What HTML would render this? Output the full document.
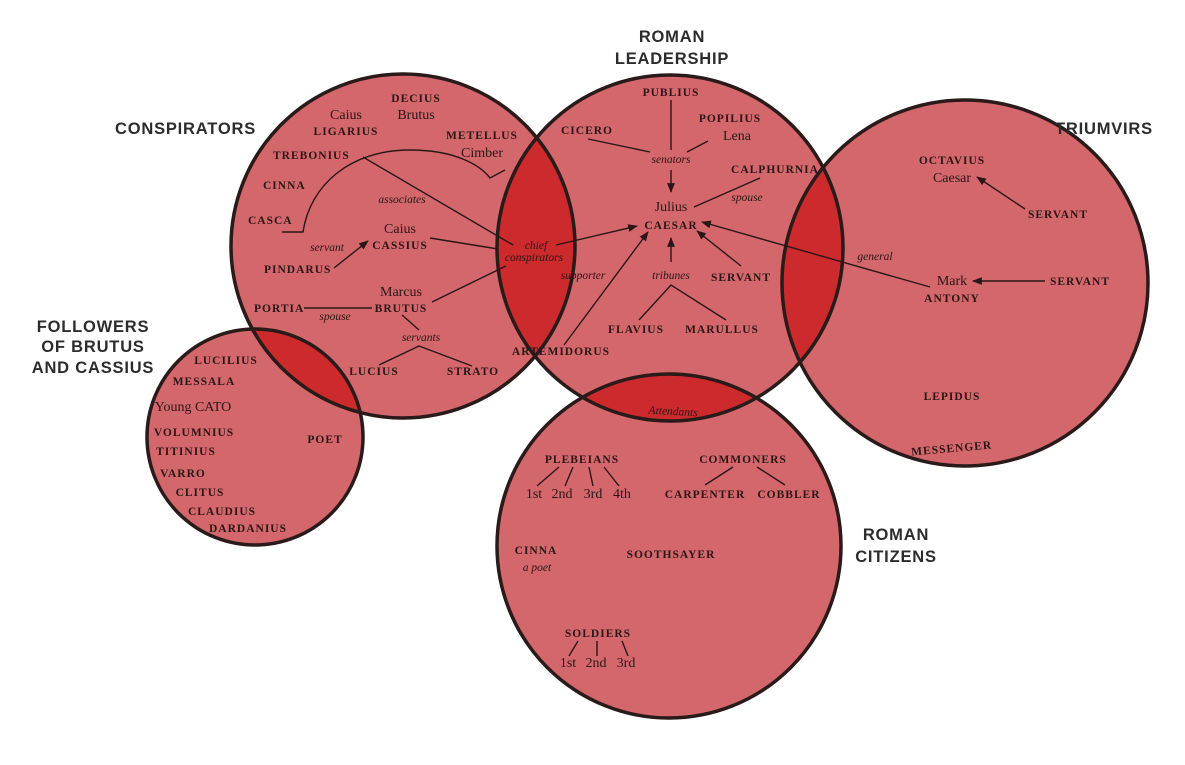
<!DOCTYPE html>
<html><head><meta charset="utf-8"><style>
body{margin:0;background:#fff;}
svg{display:block}
.n{font-family:"Liberation Serif",serif;font-weight:bold;font-size:11.5px;letter-spacing:1px;fill:#2a1616}
.r{font-family:"Liberation Serif",serif;font-size:14px;fill:#2a1616}
.i{font-family:"Liberation Serif",serif;font-style:italic;font-size:11.5px;fill:#2a1616}
.h{font-family:"Liberation Sans",sans-serif;font-weight:bold;font-size:16.5px;letter-spacing:.8px;fill:#2c2c2c}
.l{stroke:#2a1616;stroke-width:1.4;fill:none}
</style></head><body>
<svg width="1185" height="765" viewBox="0 0 1185 765" xmlns="http://www.w3.org/2000/svg">
<defs>
<marker id="a" viewBox="0 0 10 10" refX="9" refY="5" markerWidth="7" markerHeight="7" orient="auto"><path d="M0,1 L10,5 L0,9 z" fill="#2a1616"/></marker>
<clipPath id="cC"><circle cx="403" cy="246" r="172"/></clipPath>
<clipPath id="cL"><circle cx="670" cy="248" r="173"/></clipPath>
<clipPath id="cZ"><circle cx="669" cy="546" r="172"/></clipPath>
</defs>
<g fill="#d4676b">
<circle cx="403" cy="246" r="172"/>
<circle cx="670" cy="248" r="173"/>
<circle cx="965" cy="283" r="183"/>
<circle cx="255" cy="437" r="108"/>
<circle cx="669" cy="546" r="172"/>
</g>
<g fill="#cc2a2c">
<circle cx="670" cy="248" r="173" clip-path="url(#cC)"/>
<circle cx="965" cy="283" r="183" clip-path="url(#cL)"/>
<circle cx="255" cy="437" r="108" clip-path="url(#cC)"/>
<circle cx="669" cy="546" r="172" clip-path="url(#cL)"/>
</g>
<g fill="none" stroke="#2a1a1a" stroke-width="3.5">
<circle cx="403" cy="246" r="172"/>
<circle cx="670" cy="248" r="173"/>
<circle cx="965" cy="283" r="183"/>
<circle cx="255" cy="437" r="108"/>
<circle cx="669" cy="546" r="172"/>
</g>
<!-- headings -->
<text class="h" x="115" y="134">CONSPIRATORS</text>
<text class="h" x="672" y="42" text-anchor="middle">ROMAN</text>
<text class="h" x="672" y="64" text-anchor="middle">LEADERSHIP</text>
<text class="h" x="1055" y="134">TRIUMVIRS</text>
<text class="h" x="93" y="332" text-anchor="middle">FOLLOWERS</text>
<text class="h" x="93" y="352" text-anchor="middle">OF BRUTUS</text>
<text class="h" x="93" y="373" text-anchor="middle">AND CASSIUS</text>
<text class="h" x="896" y="540" text-anchor="middle">ROMAN</text>
<text class="h" x="896" y="562" text-anchor="middle">CITIZENS</text>
<!-- conspirators -->
<text class="r" x="346" y="119" text-anchor="middle">Caius</text>
<text class="n" x="346" y="135" text-anchor="middle">LIGARIUS</text>
<text class="n" x="416" y="102" text-anchor="middle">DECIUS</text>
<text class="r" x="416" y="119" text-anchor="middle">Brutus</text>
<text class="n" x="482" y="139" text-anchor="middle">METELLUS</text>
<text class="r" x="482" y="157" text-anchor="middle">Cimber</text>
<text class="n" x="273" y="159">TREBONIUS</text>
<text class="n" x="263" y="189">CINNA</text>
<text class="n" x="248" y="224">CASCA</text>
<text class="i" x="402" y="203" text-anchor="middle">associates</text>
<text class="r" x="400" y="233" text-anchor="middle">Caius</text>
<text class="n" x="400" y="249" text-anchor="middle">CASSIUS</text>
<text class="i" x="327" y="251" text-anchor="middle">servant</text>
<text class="n" x="264" y="273">PINDARUS</text>
<text class="r" x="401" y="296" text-anchor="middle">Marcus</text>
<text class="n" x="401" y="312" text-anchor="middle">BRUTUS</text>
<text class="n" x="254" y="312">PORTIA</text>
<text class="i" x="335" y="320" text-anchor="middle">spouse</text>
<text class="i" x="421" y="341" text-anchor="middle">servants</text>
<text class="n" x="374" y="375" text-anchor="middle">LUCIUS</text>
<text class="n" x="473" y="375" text-anchor="middle">STRATO</text>
<text class="i" x="536" y="249" text-anchor="middle">chief</text>
<text class="i" x="534" y="261" text-anchor="middle">conspirators</text>
<text class="i" x="583" y="279" text-anchor="middle">supporter</text>
<text class="n" x="561" y="355" text-anchor="middle">ARTEMIDORUS</text>
<path class="l" d="M282,232 L303,232 C310,185 350,150 410,150 C455,150 480,165 490,178 L505,170"/>
<path class="l" d="M363,157 L513,245"/>
<path class="l" d="M430,238 L498,249"/>
<path class="l" d="M432,302 L506,266"/>
<path class="l" d="M334,268 L368,241" marker-end="url(#a)"/>
<path class="l" d="M304,308 L372,308"/>
<path class="l" d="M402,315 L419,330"/>
<path class="l" d="M379,365 L419,346 L472,366"/>
<!-- leadership -->
<text class="n" x="671" y="96" text-anchor="middle">PUBLIUS</text>
<text class="n" x="730" y="122" text-anchor="middle">POPILIUS</text>
<text class="r" x="737" y="140" text-anchor="middle">Lena</text>
<text class="n" x="587" y="134" text-anchor="middle">CICERO</text>
<text class="i" x="671" y="163" text-anchor="middle">senators</text>
<text class="n" x="775" y="173" text-anchor="middle">CALPHURNIA</text>
<text class="i" x="747" y="201" text-anchor="middle">spouse</text>
<text class="r" x="671" y="211" text-anchor="middle">Julius</text>
<text class="n" x="671" y="229" text-anchor="middle">CAESAR</text>
<text class="i" x="671" y="279" text-anchor="middle">tribunes</text>
<text class="n" x="741" y="281" text-anchor="middle">SERVANT</text>
<text class="n" x="636" y="333" text-anchor="middle">FLAVIUS</text>
<text class="n" x="722" y="333" text-anchor="middle">MARULLUS</text>
<path class="l" d="M671,100 L671,150"/>
<path class="l" d="M588,139 L650,152"/>
<path class="l" d="M687,152 L708,141"/>
<path class="l" d="M671,170 L671,192" marker-end="url(#a)"/>
<path class="l" d="M694,207 L760,178"/>
<path class="l" d="M556,245 L637,226" marker-end="url(#a)"/>
<path class="l" d="M564,345 L648,232" marker-end="url(#a)"/>
<path class="l" d="M671,262 L671,238" marker-end="url(#a)"/>
<path class="l" d="M741,266 L697,231" marker-end="url(#a)"/>
<path class="l" d="M639,320 L671,285 L726,320"/>
<!-- triumvirs -->
<text class="n" x="952" y="164" text-anchor="middle">OCTAVIUS</text>
<text class="r" x="952" y="182" text-anchor="middle">Caesar</text>
<text class="n" x="1058" y="218" text-anchor="middle">SERVANT</text>
<text class="i" x="875" y="260" text-anchor="middle">general</text>
<text class="r" x="952" y="285" text-anchor="middle">Mark</text>
<text class="n" x="952" y="302" text-anchor="middle">ANTONY</text>
<text class="n" x="1080" y="285" text-anchor="middle">SERVANT</text>
<text class="n" x="952" y="400" text-anchor="middle">LEPIDUS</text>
<text class="n" x="952" y="452" text-anchor="middle" transform="rotate(-5 952 452)">MESSENGER</text>
<path class="l" d="M1025,209 L977,177" marker-end="url(#a)"/>
<path class="l" d="M1045,281 L973,281" marker-end="url(#a)"/>
<path class="l" d="M930,287 L702,222" marker-end="url(#a)"/>
<!-- followers -->
<text class="n" x="226" y="364" text-anchor="middle">LUCILIUS</text>
<text class="n" x="204" y="385" text-anchor="middle">MESSALA</text>
<text class="r" x="193" y="411" text-anchor="middle">Young CATO</text>
<text class="n" x="194" y="436" text-anchor="middle">VOLUMNIUS</text>
<text class="n" x="186" y="455" text-anchor="middle">TITINIUS</text>
<text class="n" x="183" y="477" text-anchor="middle">VARRO</text>
<text class="n" x="200" y="496" text-anchor="middle">CLITUS</text>
<text class="n" x="222" y="515" text-anchor="middle">CLAUDIUS</text>
<text class="n" x="248" y="532" text-anchor="middle">DARDANIUS</text>
<text class="n" x="325" y="443" text-anchor="middle">POET</text>
<!-- citizens -->
<text class="i" x="673" y="415" text-anchor="middle" font-size="14" transform="rotate(3 673 415)">Attendants</text>
<text class="n" x="582" y="463" text-anchor="middle">PLEBEIANS</text>
<text class="r" x="534" y="498" text-anchor="middle">1st</text>
<text class="r" x="562" y="498" text-anchor="middle">2nd</text>
<text class="r" x="593" y="498" text-anchor="middle">3rd</text>
<text class="r" x="622" y="498" text-anchor="middle">4th</text>
<text class="n" x="743" y="463" text-anchor="middle">COMMONERS</text>
<text class="n" x="705" y="498" text-anchor="middle">CARPENTER</text>
<text class="n" x="789" y="498" text-anchor="middle">COBBLER</text>
<text class="n" x="536" y="554" text-anchor="middle">CINNA</text>
<text class="i" x="537" y="571" text-anchor="middle">a poet</text>
<text class="n" x="671" y="558" text-anchor="middle">SOOTHSAYER</text>
<text class="n" x="598" y="637" text-anchor="middle">SOLDIERS</text>
<text class="r" x="568" y="667" text-anchor="middle">1st</text>
<text class="r" x="596" y="667" text-anchor="middle">2nd</text>
<text class="r" x="626" y="667" text-anchor="middle">3rd</text>
<path class="l" d="M559,467 L537,486 M573,467 L565,486 M589,467 L593,486 M604,467 L619,486"/>
<path class="l" d="M733,467 L705,485 M757,467 L785,485"/>
<path class="l" d="M578,641 L569,656 M597,641 L597,656 M622,641 L628,656"/>
</svg>
</body></html>
